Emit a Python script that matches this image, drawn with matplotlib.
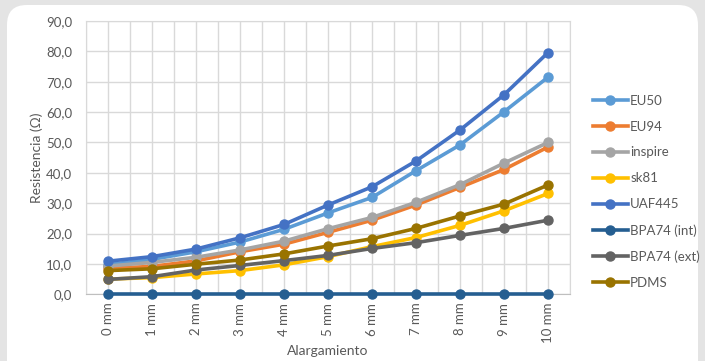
import matplotlib
matplotlib.use("Agg")
import matplotlib.pyplot as plt
from matplotlib.patches import FancyBboxPatch


ELONGATION = ["0 mm", "1 mm", "2 mm", "3 mm", "4 mm", "5 mm",
              "6 mm", "7 mm", "8 mm", "9 mm", "10 mm"]

EU50 = [9.8, 11.5, 14.0, 17.2, 21.4, 26.8, 31.9, 40.7, 49.2, 60.1, 71.5]
EU94 = [8.5, 9.2, 11.0, 14.0, 16.5, 20.4, 24.4, 29.4, 35.2, 41.1, 48.5]
INSPIRE = [9.3, 10.5, 12.2, 14.6, 17.5, 21.6, 25.3, 30.3, 36.1, 43.2, 50.0]
SK81 = [5.0, 5.5, 6.7, 7.8, 9.7, 12.4, 15.7, 18.7, 22.7, 27.5, 33.2]
UAF445 = [10.9, 12.4, 14.9, 18.6, 23.0, 29.4, 35.4, 43.9, 54.1, 65.7, 79.6]
BPA74_INT = [0.0] * 11
BPA74_EXT = [4.9, 5.8, 8.0, 9.5, 11.1, 12.8, 15.1, 17.0, 19.4, 21.7, 24.4]
PDMS = [7.8, 8.4, 9.9, 11.3, 13.3, 15.9, 18.3, 21.7, 25.8, 29.7, 36.0]

SERIES = [
    ("EU50", EU50, "#5B9BD5"),
    ("EU94", EU94, "#ED7D31"),
    ("inspire", INSPIRE, "#A5A5A5"),
    ("sk81", SK81, "#FFC000"),
    ("UAF445", UAF445, "#4472C4"),
    ("BPA74 (int)", BPA74_INT, "#255E91"),
    ("BPA74 (ext)", BPA74_EXT, "#636363"),
    ("PDMS", PDMS, "#997300"),
]

TEXT = "#595959"
GRID = "#d9d9d9"

W, H = 705, 361

plt.rcParams["font.family"] = ["Lato", "DejaVu Sans"]

fig = plt.figure(figsize=(W / 100, H / 100), dpi=100)
fig.patch.set_facecolor("#e4e4e4")

# white card with rounded top corners, behind the axes
card = FancyBboxPatch((7 / W, -0.2), (698 - 7) / W, 1.2 - 5 / H,
                      boxstyle="round,pad=0,rounding_size=0.028",
                      transform=fig.transFigure, facecolor="white",
                      edgecolor="none", zorder=-5,
                      mutation_aspect=W / H)
fig.patches.append(card)

ax = fig.add_axes([86 / W, 1 - 294.3 / H, (570 - 86) / W, (294.3 - 21) / H])
ax.set_facecolor("white")

x = list(range(len(ELONGATION)))
for name, vals, color in SERIES:
    ax.plot(x, vals, color=color, lw=2.6, marker="o", ms=6.5,
            label=name, zorder=3, clip_on=False)

ax.set_xlim(-0.5, len(ELONGATION) - 0.5)
ax.set_ylim(0, 90)
ax.set_yticks(range(0, 91, 10))
ax.set_yticklabels([f"{v},0" for v in range(0, 91, 10)])
ax.set_xticks(x)
ax.set_xticklabels(ELONGATION, rotation=90)
ax.set_xticks([i - 0.5 for i in range(len(ELONGATION) + 1)], minor=True)

ax.grid(True, which="major", axis="y", color=GRID, lw=1.0, zorder=0)
ax.grid(True, which="minor", axis="x", color=GRID, lw=1.0, zorder=0)
ax.grid(True, which="major", axis="x", color=GRID, lw=1.0, zorder=0)
for side in ["top", "right", "left"]:
    ax.spines[side].set_color(GRID)
ax.spines["bottom"].set_color("#bfbfbf")
ax.tick_params(which="both", length=0, colors=TEXT, labelsize=9.5)
ax.tick_params(axis="y", pad=10)
ax.tick_params(axis="x", pad=6)

ax.set_ylabel("Resistencia (Ω)", color=TEXT, fontsize=10, va="center")
ax.yaxis.set_label_coords(-0.101, 0.5)
ax.set_xlabel("Alargamiento", color=TEXT, fontsize=10, va="center")
ax.xaxis.set_label_coords(0.5, -0.209)

leg = ax.legend(loc="center left", bbox_to_anchor=(1.022, 0.375), frameon=False,
                fontsize=9.5, labelcolor=TEXT, handlelength=2.7,
                handletextpad=0.15, labelspacing=1.05)

fig.savefig("out.png", dpi=100, facecolor=fig.get_facecolor())
